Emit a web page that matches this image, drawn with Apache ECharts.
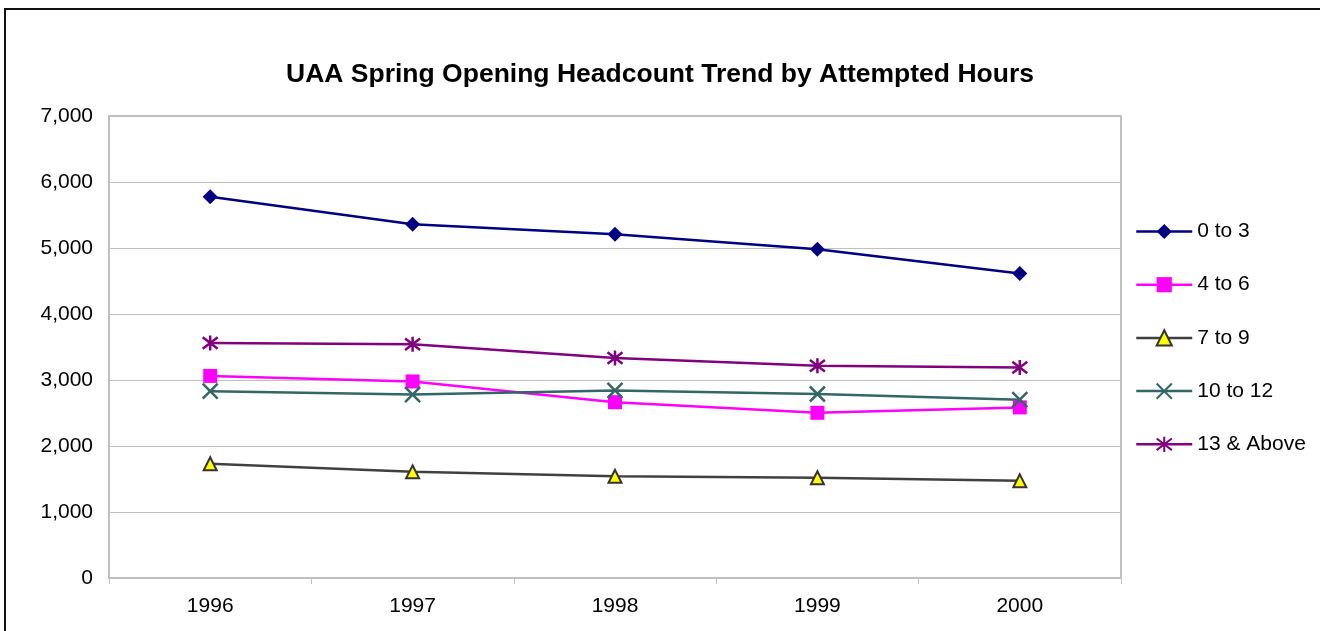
<!DOCTYPE html>
<html>
<head>
<meta charset="utf-8">
<title>UAA Spring Opening Headcount Trend</title>
<script src="https://cdn.jsdelivr.net/npm/echarts@6/dist/echarts.min.js"></script>
<style>
    html, body { margin: 0; padding: 0; background: #fff; }
    #chart { width: 1320px; height: 631px; }
</style>
</head>
<body>
<div id="chart"></div>
<script>
// 年份
var years = ['1996', '1997', '1998', '1999', '2000'];
// 各学时段人数
var hrs0to3 = [5775, 5360, 5210, 4982, 4612];
var hrs4to6 = [3062, 2978, 2664, 2503, 2585];
var hrs7to9 = [1730, 1608, 1540, 1518, 1472];
var hrs10to12 = [2830, 2780, 2842, 2788, 2702];
var hrs13up = [3562, 3542, 3334, 3216, 3190];
// y轴刻度
var yTicks = [0, 1000, 2000, 3000, 4000, 5000, 6000, 7000];

var font = 'Liberation Sans, Arial, sans-serif';
var crossPath = 'path://M0,0L10,10M10,0L0,10';
var starPath = 'path://M0,0L10,10M10,0L0,10M5,-1.5L5,11.5';

var myChart = echarts.init(document.getElementById('chart'));

function mkSeries(name, data, color, symbol, size, itemStyle) {
    return {
        name: name,
        type: 'line',
        data: data,
        symbol: symbol,
        symbolSize: size,
        lineStyle: { color: color, width: 2.5 },
        itemStyle: itemStyle,
        emphasis: { disabled: true },
        animation: false
    };
}

var option = {
    backgroundColor: '#fff',
    textStyle: { fontFamily: font },
    graphic: [{
        type: 'rect',
        z: -10,
        shape: { x: 5, y: 9, width: 1400, height: 700 },
        style: { fill: 'none', stroke: '#111', lineWidth: 2 }
    }],
    title: {
        text: 'UAA Spring Opening Headcount Trend by Attempted Hours',
        left: 'center',
        top: 56,
        textStyle: { fontFamily: font, fontSize: 26.5, fontWeight: 'bold', color: '#000' }
    },
    legend: {
        orient: 'vertical',
        left: 1135,
        top: 220.5,
        padding: 0,
        itemWidth: 56,
        itemHeight: 19,
        itemGap: 31.2,
        lineStyle: { width: 2.5 },
        textStyle: { fontFamily: font, fontSize: 21, color: '#000', lineHeight: 22 },
        data: ['0 to 3', '4 to 6', '7 to 9', '10 to 12', '13 & Above']
    },
    grid: {
        left: 109,
        top: 116,
        width: 1012,
        height: 462,
        show: true,
        borderColor: '#c0c0c0',
        borderWidth: 2
    },
    xAxis: {
        type: 'category',
        data: years,
        boundaryGap: true,
        axisLine: { lineStyle: { color: '#c0c0c0', width: 2 } },
        axisTick: { show: true, length: 6, lineStyle: { color: '#c0c0c0' } },
        axisLabel: { color: '#000', fontSize: 21, fontFamily: font, margin: 18 }
    },
    yAxis: {
        type: 'value',
        min: yTicks[0],
        max: yTicks[yTicks.length - 1],
        interval: 1000,
        axisLine: { show: false },
        axisTick: { show: false },
        splitLine: { lineStyle: { color: '#c0c0c0', width: 1 } },
        axisLabel: {
            color: '#000', fontSize: 21, fontFamily: font, margin: 16,
            formatter: function (v) { return v.toLocaleString('en-US'); }
        }
    },
    series: [
        mkSeries('0 to 3', hrs0to3, '#000080', 'diamond', 15, { color: '#000080' }),
        mkSeries('4 to 6', hrs4to6, '#ff00ff', 'rect', 14, { color: '#ff00ff' }),
        mkSeries('7 to 9', hrs7to9, '#404040', 'triangle', 13, { color: '#ffff00', borderColor: '#333', borderWidth: 2 }),
        mkSeries('10 to 12', hrs10to12, '#336666', crossPath, 15, { color: '#336666', borderColor: '#336666', borderWidth: 2.5 }),
        mkSeries('13 & Above', hrs13up, '#800080', starPath, 15, { color: '#800080', borderColor: '#800080', borderWidth: 2.5 })
    ]
};

myChart.setOption(option);
</script>
</body>
</html>
